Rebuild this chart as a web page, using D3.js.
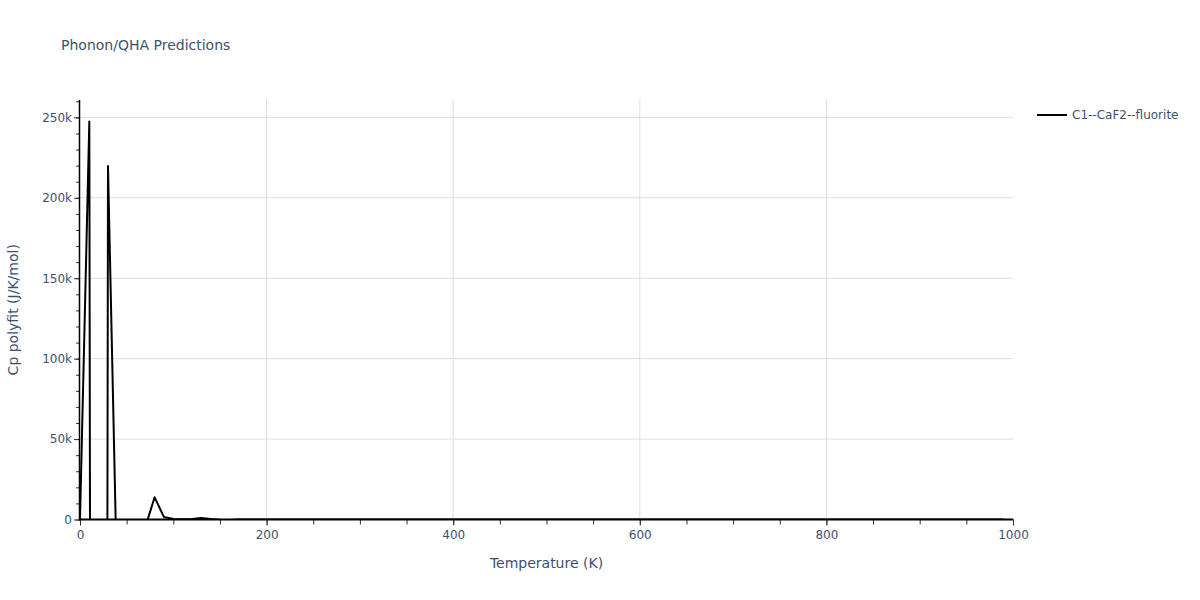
<!DOCTYPE html>
<html>
<head>
<meta charset="utf-8">
<script src="https://cdn.jsdelivr.net/npm/d3@7"></script>
<style>
  html, body { margin: 0; padding: 0; background: #fff; }
  svg { display: block; font-family: "DejaVu Sans", Verdana, sans-serif; }
</style>
</head>
<body>
<svg id="chart" width="1200" height="600"></svg>
<script>
// ---- data ----
const chartTitle = "Phonon/QHA Predictions";
const xTitle = "Temperature (K)";
const yTitle = "Cp polyfit (J/K/mol)";
const seriesName = "C1--CaF2--fluorite";

const temperatures = [
  0, 10, 20, 30, 40, 50, 60, 70, 80, 90,
  100, 110, 120, 130, 140, 150, 160, 170, 180, 190,
  200, 210, 220, 230, 240, 250, 260, 270, 280, 290,
  300, 310, 320, 330, 340, 350, 360, 370, 380, 390,
  400, 410, 420, 430, 440, 450, 460, 470, 480, 490,
  500, 510, 520, 530, 540, 550, 560, 570, 580, 590,
  600, 610, 620, 630, 640, 650, 660, 670, 680, 690,
  700, 710, 720, 730, 740, 750, 760, 770, 780, 790,
  800, 810, 820, 830, 840, 850, 860, 870, 880, 890,
  900, 910, 920, 930, 940, 950, 960, 970, 980, 990
];
const cpValues = [
  0, 247500, -3300000, 219700, -48000, -30000, -12000, -4600, 13800, 1500,
  300, 150, 350, 900, 300, -150, -250, 50, 58, 60,
  61, 62, 63, 63, 64, 64, 65, 65, 66, 66,
  66, 67, 67, 67, 68, 68, 68, 68, 69, 69,
  69, 69, 70, 70, 70, 70, 70, 71, 71, 71,
  71, 71, 71, 72, 72, 72, 72, 72, 72, 73,
  73, 73, 73, 73, 73, 73, 74, 74, 74, 74,
  74, 74, 74, 74, 75, 75, 75, 75, 75, 75,
  75, 75, 76, 76, 76, 76, 76, 76, 76, 76,
  76, 77, 77, 77, 77, 77, 77, 77, 77, 78
];
const xTicks = [0, 200, 400, 600, 800, 1000];
const yTicks = [0, 50000, 100000, 150000, 200000, 250000];
const xDomain = [0, 1000];
const yDomain = [0, 260800];

// ---- layout ----
const svg = d3.select("#chart");
const pL = 80, pR = 1013, pT = 100, pB = 519.5;
const textColor = "#3e5070";
const gridColor = "#dedede";
const fontFam = '"DejaVu Sans", Verdana, sans-serif';

const x = d3.scaleLinear().domain(xDomain).range([pL, pR]);
const y = d3.scaleLinear().domain(yDomain).range([pB, pT]);

svg.append("rect").attr("width", 1200).attr("height", 600).attr("fill", "#fff");

// grid
const grid = svg.append("g");
grid.selectAll("line.gx").data(xTicks.filter(d => d > 0 && d < 1000)).enter()
  .append("line").attr("x1", d => x(d)).attr("x2", d => x(d))
  .attr("y1", pT).attr("y2", pB).attr("stroke", gridColor).attr("stroke-width", 1);
grid.selectAll("line.gy").data(yTicks.filter(d => d > 0)).enter()
  .append("line").attr("x1", pL).attr("x2", pR)
  .attr("y1", d => y(d)).attr("y2", d => y(d)).attr("stroke", gridColor).attr("stroke-width", 1);

// clip
svg.append("defs").append("clipPath").attr("id", "plotclip")
  .append("rect").attr("x", pL).attr("y", pT).attr("width", pR - pL).attr("height", pB - pT);

// line
const pts = temperatures.map((t, i) => [t, cpValues[i]]);
svg.append("path")
  .datum(pts)
  .attr("clip-path", "url(#plotclip)")
  .attr("fill", "none")
  .attr("stroke", "#000")
  .attr("stroke-width", 2)
  .attr("stroke-linejoin", "round")
  .attr("d", d3.line().x(d => x(d[0])).y(d => y(d[1])));

// axes
const fmtY = d => d === 0 ? "0" : d3.format("~s")(d);
const xMinor = d3.range(0, 1001, 50);
const yMinor = d3.range(0, 260001, 10000);

svg.append("g").attr("transform", `translate(0,${pB})`)
  .call(d3.axisBottom(x).tickValues(xMinor).tickSize(5).tickFormat(""))
  .call(g => g.select(".domain").remove())
  .call(g => g.selectAll(".tick line").attr("stroke", "#333"));
svg.append("g").attr("transform", `translate(0,${pB})`)
  .call(d3.axisBottom(x).tickValues(xTicks).tickSize(6).tickPadding(5).tickFormat(d3.format("d")))
  .call(g => g.select(".domain").remove())
  .call(g => g.selectAll(".tick line").attr("stroke", "#333"))
  .call(g => g.selectAll(".tick text").attr("fill", textColor).style("font-size", "12px")
    .style("font-family", fontFam));

svg.append("g").attr("transform", `translate(${pL},0)`)
  .call(d3.axisLeft(y).tickValues(yMinor).tickSize(4).tickFormat(""))
  .call(g => g.select(".domain").remove())
  .call(g => g.selectAll(".tick line").attr("stroke", "#333"));
svg.append("g").attr("transform", `translate(${pL},0)`)
  .call(d3.axisLeft(y).tickValues(yTicks).tickSize(6).tickPadding(2).tickFormat(fmtY))
  .call(g => g.select(".domain").remove())
  .call(g => g.selectAll(".tick line").attr("stroke", "#333"))
  .call(g => g.selectAll(".tick text").attr("fill", textColor).style("font-size", "12px")
    .style("font-family", fontFam));

// axis lines
svg.append("line").attr("x1", pL - 1).attr("x2", pR).attr("y1", pB).attr("y2", pB)
  .attr("stroke", "#000").attr("stroke-width", 2);
svg.append("line").attr("x1", pL - 0.5).attr("x2", pL - 0.5).attr("y1", pT).attr("y2", pB + 1)
  .attr("stroke", "#000").attr("stroke-width", 1.5);

// titles
svg.append("text").attr("x", 61).attr("y", 50).text(chartTitle)
  .attr("fill", textColor).style("font-size", "14px");
svg.append("text").attr("x", (pL + pR) / 2).attr("y", 568).attr("text-anchor", "middle")
  .text(xTitle).attr("fill", textColor).style("font-size", "14px");
svg.append("text").attr("transform", `translate(18,${(pT + pB) / 2}) rotate(-90)`)
  .attr("text-anchor", "middle").text(yTitle).attr("fill", textColor).style("font-size", "14px");

// legend
const lg = svg.append("g").attr("transform", "translate(1037,115)");
lg.append("line").attr("x1", 0).attr("x2", 30).attr("y1", 0).attr("y2", 0)
  .attr("stroke", "#000").attr("stroke-width", 2);
lg.append("text").attr("x", 35).attr("y", 4).text(seriesName)
  .attr("fill", textColor).style("font-size", "12px");
</script>
</body>
</html>
